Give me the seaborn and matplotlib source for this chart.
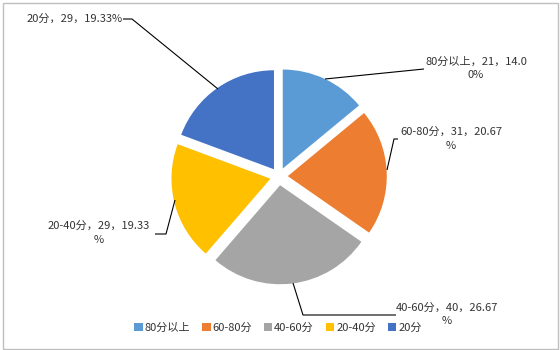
import matplotlib
matplotlib.use("Agg")
import matplotlib.pyplot as plt
import matplotlib.patches as mpatches
import seaborn as sns

# ---- data ----
categories = ["80分以上", "60-80分", "40-60分", "20-40分", "20分"]
counts = [21, 31, 40, 29, 29]
percent_labels = ["14.00%", "20.67%", "26.67%", "19.33%", "19.33%"]
colors = ["#5B9BD5", "#ED7D31", "#A5A5A5", "#FFC000", "#4472C4"]

sns.set_theme(style="white")
plt.rcParams["font.family"] = ["Noto Sans CJK SC", "DejaVu Sans"]

fig = plt.figure(figsize=(5.6, 3.5), dpi=100)
ax = fig.add_axes([0, 0, 1, 1])


def P(px, py):
    """pixel position -> data coordinates (1 unit = 100 px)"""
    return ((px - 280) / 100.0, (175 - py) / 100.0)


center = P(279, 176.5)
wedges, _ = ax.pie(counts, colors=colors, startangle=90, counterclock=False,
                   radius=0.99, explode=[0.088] * len(counts), center=center,
                   wedgeprops=dict(linewidth=0))
ax.set_xlim(-2.8, 2.8)
ax.set_ylim(-1.75, 1.75)
ax.set_aspect("equal")
ax.axis("off")

txt_color = "#333333"
fs = 8

# label: index, chars moved to 2nd line, center x, line y's, leader polyline (pixels)
label_specs = [
    (4, 0, 75, (19,), [(123, 19), (132, 19), (218, 89)]),
    (0, 2, 476, (62, 75), [(424, 69), (325, 79)]),
    (1, 1, 451, (132, 146), [(398, 139), (394, 139), (387, 170)]),
    (3, 1, 99, (226, 240), [(155, 234), (166, 234), (175, 200)]),
    (2, 1, 447, (308, 321), [(396, 315), (303, 315), (293, 283)]),
]

for idx, n2, cx, ys_px, leader in label_specs:
    s = f"{categories[idx]}，{counts[idx]}，{percent_labels[idx]}"
    lines = [s] if n2 == 0 else [s[:-n2], s[-n2:]]
    for line, py in zip(lines, ys_px):
        x, y = P(cx, py)
        ax.text(x, y, line, ha="center", va="center", fontsize=fs, color=txt_color)
    xs, ys = zip(*[P(a, b) for a, b in leader])
    ax.plot(xs, ys, color="#000000", lw=0.8, solid_capstyle="butt")

handles = [mpatches.Patch(facecolor=c, edgecolor="none", label=l)
           for c, l in zip(colors, categories)]
fig.legend(handles=handles, loc="center", bbox_to_anchor=(278 / 560, 1 - 328 / 350),
           ncol=5, frameon=False, fontsize=fs, handlelength=0.75, handleheight=0.75,
           handletextpad=0.15, columnspacing=1.1, labelcolor=txt_color)

# outer border
fig.patches.append(mpatches.Rectangle((3 / 560, 1 / 350), 555 / 560, 346 / 350,
                                      transform=fig.transFigure, fill=False,
                                      edgecolor="#BFBFBF", linewidth=1.0))

fig.savefig("out.png", dpi=100, facecolor="white")
